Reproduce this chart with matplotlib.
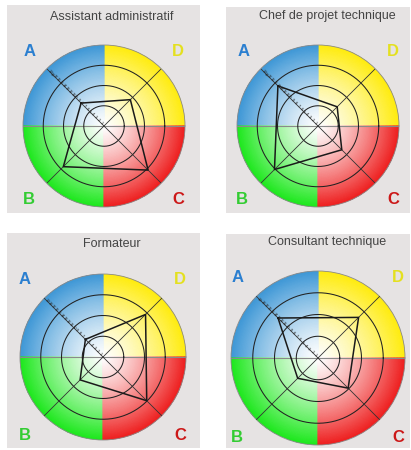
import numpy as np
import matplotlib
matplotlib.use("Agg")
import matplotlib.pyplot as plt
from matplotlib.colors import LinearSegmentedColormap
from matplotlib.patches import Rectangle

plt.rcParams['font.family'] = ['Liberation Sans', 'DejaVu Sans']

# ---- data ----
titles = ["Assistant administratif", "Chef de projet technique", "Formateur", "Consultant technique"]
axes_labels = ["A", "D", "C", "B"]
axes_angles_deg = [135, 45, 315, 225]
scale_max = 20
ring_values = [5, 10, 15, 20]
tick_values = list(range(1, 20))
values_A = [8.0, 14.0, 6.0, 13.0]
values_D = [9.2, 6.7, 14.5, 13.2]
values_C = [15.4, 8.3, 14.9, 9.8]
values_B = [14.2, 15.2, 7.8, 6.6]

quad_colors = {"A": "#3f98d6", "D": "#ffec10", "C": "#ee2020", "B": "#1ee81e"}
label_colors = {"A": "#2b7fd0", "D": "#e4e020", "C": "#cc1818", "B": "#33cc33"}

W, H = 411, 450
fig = plt.figure(figsize=(W / 100, H / 100), dpi=100)
fig.patch.set_facecolor("white")

# layout (pixels, top-left origin)
bg_boxes = [(7, 5, 200, 213), (226, 7, 410, 213), (7, 233, 200, 448), (226, 234, 410, 448)]
centers = [(104, 126, 81), (318, 126, 81), (103, 357, 83), (318, 358, 87)]
title_pos = [(112, 17), (327, 16), (112, 244), (327, 242)]
letter_pos = [
    {"A": (30, 52), "D": (178, 52), "B": (29, 200), "C": (178, 200)},
    {"A": (244, 52), "D": (393, 52), "B": (242, 200), "C": (393, 200)},
    {"A": (25, 280), "D": (180, 280), "B": (25, 435), "C": (180, 435)},
    {"A": (238, 278), "D": (398, 278), "B": (237, 438), "C": (398, 438)},
]

def fx(x):
    return x / W

def fy(y):
    return 1 - y / H

for i in range(4):
    x0, y0, x1, y1 = bg_boxes[i]
    fig.patches.append(Rectangle((fx(x0), fy(y1)), fx(x1) - fx(x0), fy(y0) - fy(y1),
                                 transform=fig.transFigure, facecolor="#e6e3e3",
                                 edgecolor="none", zorder=-5))
    tx, ty = title_pos[i]
    fig.text(fx(tx), fy(ty), titles[i], ha="center", va="center", fontsize=9, color="#444444")
    for lab, (lx, ly) in letter_pos[i].items():
        fig.text(fx(lx), fy(ly), lab, ha="center", va="center", fontsize=12,
                 fontweight="bold", color=label_colors[lab])

    cx, cy, r = centers[i]
    ax = fig.add_axes([fx(cx - r), fy(cy + r), 2 * r / W, 2 * r / H], projection="polar")
    ax.set_zorder(2)
    ax.set_facecolor("none")
    ax.set_ylim(0, scale_max)
    ax.set_xticks([])
    ax.set_yticks([])
    ax.grid(False)
    ax.spines["polar"].set_color("#8a8a8a")
    ax.spines["polar"].set_linewidth(0.6)

    # gradient quadrants
    quads = {"D": (0, 90), "A": (90, 180), "B": (180, 270), "C": (270, 360)}
    rr = np.linspace(0, scale_max, 60)
    for lab, (a0, a1) in quads.items():
        th = np.radians(np.linspace(a0, a1, 40))
        TH, RR = np.meshgrid(th, rr)
        cmap = LinearSegmentedColormap.from_list(lab, ["#ffffff", quad_colors[lab]])
        ax.pcolormesh(TH, RR, (RR / scale_max) ** 1.25, cmap=cmap, vmin=0, vmax=1,
                      shading="gouraud", zorder=1, rasterized=True)

    # rings
    tt = np.linspace(0, 2 * np.pi, 300)
    for rv in ring_values[:-1]:
        ax.plot(tt, np.full_like(tt, rv), color="#222222", lw=0.75, zorder=3)
    # horizontal divider
    for a in (0, 180):
        ax.plot([np.radians(a)] * 2, [0, scale_max], color="#8a8a8a", lw=0.8, zorder=2)
    # diagonals
    for a in axes_angles_deg:
        ax.plot([np.radians(a)] * 2, [0, scale_max], color="#333333", lw=0.6, zorder=3)
    # tick labels along A axis
    for tv in tick_values:
        ax.text(np.radians(135), tv, str(tv), fontsize=3, color="#222222",
                rotation=-45, ha="center", va="center", zorder=4)

    vals = [values_A[i], values_D[i], values_C[i], values_B[i]]
    th = np.radians(axes_angles_deg + [axes_angles_deg[0]])
    ax.plot(th, vals + [vals[0]], color="#1a1a1a", lw=1.1, zorder=5)

fig.savefig("out.png", dpi=100, facecolor="white")
